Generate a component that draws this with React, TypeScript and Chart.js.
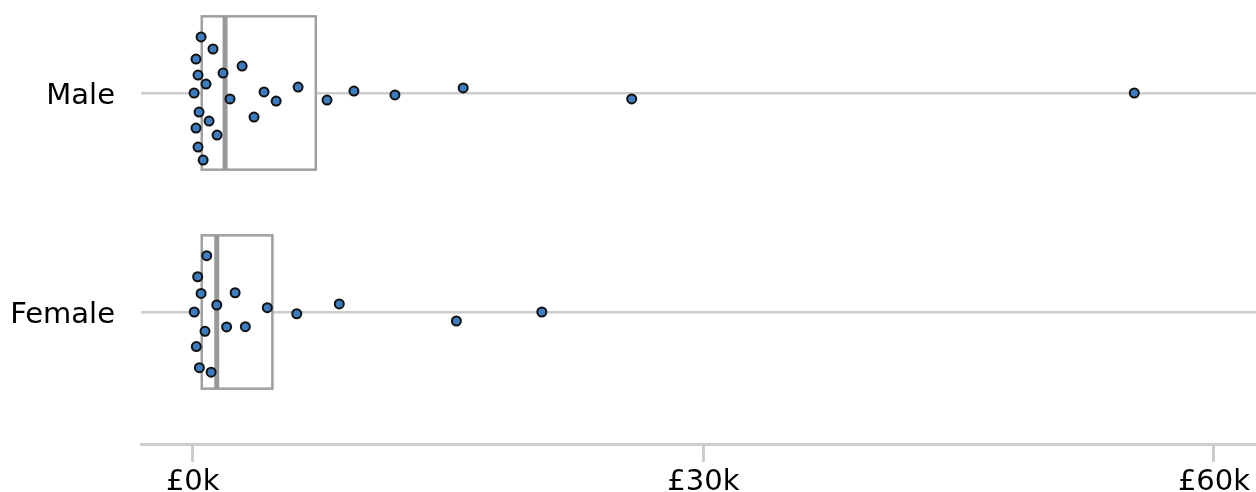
import React, { useEffect, useRef } from 'react';
import { Chart, registerables } from 'chart.js';

Chart.register(...registerables);

// ---- Data (values in £ thousands) ----
const categories = ['Male', 'Female'];

const maleValues = [
  0.49, 1.19, 0.19, 1.78, 2.9, 0.31, 0.78, 0.08, 2.19, 4.19, 4.9, 6.19, 3.6,
  0.37, 0.96, 0.19, 1.43, 0.31, 0.61, 7.89, 9.47, 11.88, 15.89, 25.79, 55.32,
];
// vertical jitter within the category band (fraction of band)
const maleJitter = [
  -0.256, -0.201, -0.155, -0.091, -0.123, -0.082, -0.041, 0.0, 0.027, -0.005,
  0.037, -0.027, 0.11, 0.087, 0.128, 0.16, 0.192, 0.247, 0.306, 0.032, -0.009,
  0.009, -0.023, 0.027, 0.0,
];

const femaleValues = [
  0.82, 0.29, 0.49, 2.49, 1.41, 0.09, 4.38, 6.11, 8.61, 0.72, 1.99, 3.09, 0.21,
  0.39, 1.08, 15.49, 20.51,
];
const femaleJitter = [
  -0.257, -0.161, -0.085, -0.088, -0.032, 0.0, -0.02, 0.008, -0.037, 0.088,
  0.068, 0.067, 0.158, 0.254, 0.275, 0.041, 0.0,
];

const boxQ1 = [0.53, 0.53];
const boxMedian = [1.9, 1.41];
const boxQ3 = [7.23, 4.68];

const xTickValues = [0, 30, 60];
const xTickLabels = ['£0k', '£30k', '£60k'];

const FONT = '"DejaVu Sans", Verdana, sans-serif';
const FONT_SIZE = 29;

const boxPlugin = {
  id: 'boxes',
  beforeDatasetsDraw(chart: any) {
    const { ctx, scales } = chart;
    const x = scales.x;
    const y = scales.y;
    const half = 0.35;
    categories.forEach((_, i) => {
      const x1 = x.getPixelForValue(boxQ1[i]);
      const x2 = x.getPixelForValue(boxQ3[i]);
      const xm = x.getPixelForValue(boxMedian[i]);
      const yt = y.getPixelForValue(i - half);
      const yb = y.getPixelForValue(i + half);
      ctx.save();
      ctx.fillStyle = '#ffffff';
      ctx.fillRect(x1, yt, x2 - x1, yb - yt);
      ctx.strokeStyle = '#a0a0a0';
      ctx.lineWidth = 2.5;
      ctx.strokeRect(x1, yt, x2 - x1, yb - yt);
      ctx.beginPath();
      ctx.strokeStyle = '#999999';
      ctx.lineWidth = 5;
      ctx.moveTo(xm, yt);
      ctx.lineTo(xm, yb);
      ctx.stroke();
      ctx.restore();
    });
  },
  afterDraw(chart: any) {
    // category labels on the left, vertically centred on each category line
    const { ctx, scales, chartArea } = chart;
    const y = scales.y;
    ctx.save();
    ctx.font = `${FONT_SIZE}px ${FONT}`;
    ctx.fillStyle = '#000000';
    ctx.textAlign = 'right';
    ctx.textBaseline = 'alphabetic';
    categories.forEach((c, i) => {
      const py = y.getPixelForValue(i);
      ctx.fillText(c, chartArea.left - 26, py + FONT_SIZE * 0.365);
    });
    ctx.restore();
  },
};

export default function App() {
  const canvasRef = useRef<HTMLCanvasElement | null>(null);

  useEffect(() => {
    if (!canvasRef.current) return;
    const maleData = maleValues.map((v, k) => ({ x: v, y: 0 + maleJitter[k] }));
    const femaleData = femaleValues.map((v, k) => ({ x: v, y: 1 + femaleJitter[k] }));
    const pointStyle = {
      pointRadius: 4.5,
      pointBackgroundColor: '#3d7dbf',
      pointBorderColor: '#111111',
      pointBorderWidth: 2,
      showLine: false,
      clip: false as any,
    };
    const chart = new Chart(canvasRef.current, {
      type: 'scatter',
      data: {
        datasets: [
          { label: categories[0], data: maleData, ...pointStyle },
          { label: categories[1], data: femaleData, ...pointStyle },
        ],
      },
      plugins: [boxPlugin],
      options: {
        animation: false,
        responsive: true,
        maintainAspectRatio: false,
        layout: { padding: 0, autoPadding: false },
        plugins: { legend: { display: false }, tooltip: { enabled: false } },
        scales: {
          x: {
            type: 'linear',
            position: 'bottom',
            min: -3.04,
            max: 62.47,
            afterBuildTicks: (scale: any) => {
              scale.ticks = xTickValues.map((v) => ({ value: v }));
            },
            afterFit: (scale: any) => {
              scale.height = 48;
              scale.paddingLeft = 0;
              scale.paddingRight = 0;
            },
            ticks: {
              callback: (v: any) => xTickLabels[xTickValues.indexOf(Number(v))] ?? '',
              color: '#000000',
              font: { family: FONT, size: FONT_SIZE },
              padding: 3,
              maxRotation: 0,
              autoSkip: false,
            },
            grid: {
              drawOnChartArea: false,
              drawTicks: true,
              tickLength: 18,
              tickColor: '#cccccc',
              tickWidth: 3,
            },
            border: { display: true, color: '#cccccc', width: 3 },
          },
          y: {
            type: 'linear',
            position: 'left',
            reverse: true,
            min: -0.4247,
            max: 1.6027,
            afterBuildTicks: (scale: any) => {
              scale.ticks = categories.map((_, i) => ({ value: i }));
            },
            afterFit: (scale: any) => {
              scale.width = 141;
              scale.paddingTop = 0;
              scale.paddingBottom = 0;
            },
            ticks: { display: false },
            grid: {
              drawTicks: false,
              color: '#cccccc',
              lineWidth: 2.5,
            },
            border: { display: false },
          },
        },
      },
    });
    return () => chart.destroy();
  }, []);

  return (
    <div style={{ position: 'absolute', left: 0, top: 0, width: 1256, height: 492 }}>
      <canvas ref={canvasRef} />
    </div>
  );
}
